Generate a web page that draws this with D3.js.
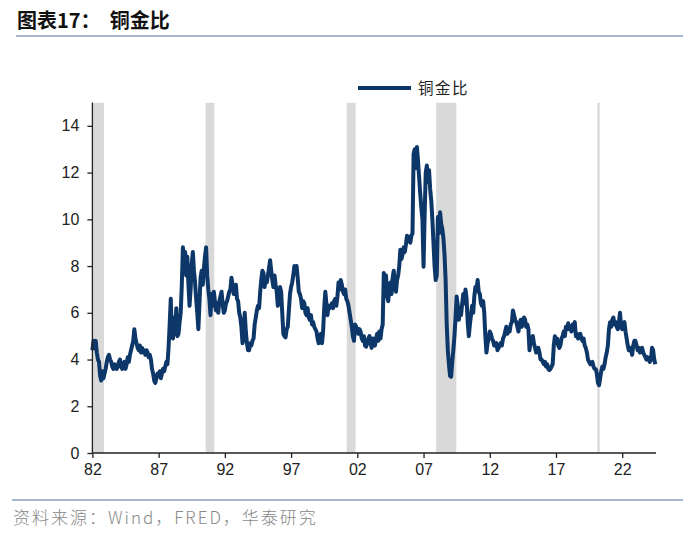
<!DOCTYPE html>
<html><head><meta charset="utf-8">
<script src="https://cdn.jsdelivr.net/npm/d3@7"></script>
<style>
html,body{margin:0;padding:0;background:#fff;}
svg{display:block;}
</style></head>
<body>
<svg id="c" width="700" height="535"></svg>
<script>
// Monthly copper/gold ratio, starting Jan 1982
const startYear = 1982;
const ratio = [
4.4,4.8,4.6,4.8,4.3,4.0,3.9,3.3,3.1,3.5,3.2,3.4,
3.6,3.9,4.1,4.2,4.0,3.9,3.7,3.6,3.8,3.7,3.6,3.7,
3.9,4.0,3.7,3.6,3.8,3.9,3.6,3.8,4.1,3.9,4.2,4.4,
4.6,4.8,5.3,4.9,4.7,4.5,4.4,4.6,4.3,4.5,4.3,4.4,
4.2,4.4,4.3,4.1,4.2,4.0,3.6,3.4,3.1,3.0,3.2,3.4,
3.3,3.5,3.2,3.4,3.6,3.5,3.7,3.9,3.8,4.5,5.5,6.6,
5.0,4.9,5.8,5.1,6.2,5.0,5.1,5.6,6.0,7.2,8.8,8.2,
8.6,7.6,8.4,7.2,6.3,7.0,8.1,8.6,7.8,7.3,6.6,6.0,
5.3,6.4,7.5,7.8,7.2,7.9,8.4,8.8,7.6,7.0,6.6,5.9,
6.8,6.3,6.9,6.5,6.1,6.4,6.0,6.5,6.7,6.9,6.4,6.0,
6.1,6.4,6.5,6.7,6.9,7.0,7.5,7.2,6.8,6.9,7.2,6.6,
6.5,6.0,5.8,5.4,4.7,5.0,6.0,5.2,4.7,4.4,4.4,4.7,
4.6,4.8,4.9,5.5,5.8,6.1,6.3,6.2,6.9,7.4,7.8,7.7,
7.1,7.5,7.3,7.6,7.9,8.25,7.8,7.4,7.1,7.6,7.2,6.9,
6.3,6.6,7.1,6.9,6.0,5.1,5.0,4.95,5.3,5.4,6.1,6.8,
7.1,7.3,7.6,8.0,7.7,8.0,7.5,6.9,6.8,6.6,6.2,6.5,
6.4,6.0,5.9,6.2,5.8,5.7,5.9,5.5,5.6,5.4,5.3,5.2,
4.9,4.7,4.8,5.1,4.7,5.2,6.2,6.9,6.4,5.9,6.3,6.2,
6.3,6.4,6.2,6.5,6.6,6.3,6.7,7.3,7.0,7.4,7.2,6.9,
6.8,7.0,6.6,6.5,6.3,6.0,5.7,5.4,5.0,4.8,5.5,5.4,
5.3,5.1,5.3,5.2,4.9,4.8,5.0,4.6,4.55,4.7,4.9,5.0,
4.7,4.5,4.9,4.8,4.6,4.9,5.1,4.8,5.2,4.9,5.3,5.5,
7.7,7.2,7.6,6.7,6.5,7.0,7.3,6.8,7.5,7.8,7.2,6.9,
7.4,7.6,8.0,8.7,8.3,8.5,8.8,8.6,8.9,9.3,9.1,9.25,
9.0,9.3,9.4,12.8,13.0,12.2,13.1,12.5,11.8,11.1,10.5,10.0,
7.97,10.2,12.0,12.3,11.6,12.1,11.3,10.8,10.0,9.0,8.0,7.4,
7.6,10.1,9.4,10.3,9.8,9.6,9.2,8.5,7.4,5.5,4.4,3.8,
3.3,3.26,3.9,4.4,5.0,5.8,6.7,6.3,5.7,6.2,5.9,6.4,
6.8,6.4,7.0,6.6,5.6,5.0,5.5,5.9,6.3,6.0,6.7,7.1,
7.0,7.4,6.9,6.8,6.4,6.3,6.5,6.0,5.0,4.3,4.7,4.9,
5.2,5.1,4.9,4.8,4.6,4.6,4.7,4.4,4.5,4.6,4.7,4.6,
4.9,5.0,5.2,5.4,5.1,5.3,5.2,5.5,5.6,6.1,5.9,5.7,
5.6,5.4,5.2,5.5,5.7,5.4,5.6,5.8,5.7,5.4,5.5,5.3,
4.4,4.8,4.9,5.0,4.7,4.5,4.3,4.4,4.5,4.3,4.0,4.0,
3.9,3.8,3.9,3.7,3.8,3.6,3.55,3.6,3.7,3.8,4.6,5.0,
4.8,4.9,4.6,4.5,4.6,4.9,5.0,5.2,5.0,5.4,5.3,5.55,
5.3,5.4,5.2,5.5,5.4,5.6,5.0,5.1,4.9,5.0,5.1,4.9,
4.8,4.9,4.6,4.5,4.3,4.0,3.9,3.8,3.85,3.9,3.7,3.6,
3.6,3.4,3.0,2.9,3.2,3.5,3.7,3.6,3.8,4.1,4.3,4.6,
5.3,5.6,5.4,5.7,5.8,5.5,5.6,5.4,5.3,5.6,6.0,5.4,
5.3,5.5,5.6,5.2,4.9,4.6,4.4,4.5,4.4,4.2,4.6,4.8,
4.8,4.6,4.4,4.5,4.3,4.4,4.5,4.3,4.2,4.1,4.0,4.1,
4.0,3.9,4.0,4.5,4.4,4.0,3.8
];
// US recessions (decimal years)
const recStart = [1981.5, 1990.55, 2001.2, 2007.95, 2020.12];
const recEnd   = [1982.88, 1991.2, 2001.87, 2009.47, 2020.3];
const xTicks = [1982, 1987, 1992, 1997, 2002, 2007, 2012, 2017, 2022];
const xTickLabels = ["82","87","92","97","02","07","12","17","22"];
const yTicks = [0, 2, 4, 6, 8, 10, 12, 14];
const seriesName = "铜金比";
const title = "图表17：  铜金比";
const source = "资料来源：Wind，FRED，华泰研究";

const svg = d3.select("#c");
const x = d3.scaleLinear().domain([1982, 2024.55]).range([92.4, 656]);
const y = d3.scaleLinear().domain([0, 15]).range([453, 102.5]);

const data = ratio.map((v, i) => ({t: startYear + i / 12, v}));

// title
svg.append("text").attr("x", 17).attr("y", 28)
  .attr("font-family", "'Noto Sans CJK SC', sans-serif").attr("font-weight", "bold")
  .attr("font-size", 20).attr("fill", "#111").attr("xml:space", "preserve").text(title);
svg.append("line").attr("x1", 16).attr("x2", 683).attr("y1", 36).attr("y2", 36)
  .attr("stroke", "#8da2bb").attr("stroke-width", 1.6);

// recession bands
const clip = svg.append("defs").append("clipPath").attr("id", "pc");
clip.append("rect").attr("x", x(1982)).attr("y", y(15)).attr("width", x(2024.55) - x(1982)).attr("height", y(0) - y(15));
svg.append("g").attr("clip-path", "url(#pc)").selectAll("rect").data(recStart).join("rect")
  .attr("x", (d) => x(d)).attr("y", y(15))
  .attr("width", (d, i) => Math.max(2, x(recEnd[i]) - x(d)))
  .attr("height", y(0) - y(15)).attr("fill", "#d9d9d9");

// line
svg.append("path").datum(data)
  .attr("d", d3.line().x(d => x(d.t)).y(d => y(d.v)))
  .attr("fill", "none").attr("stroke", "#0c3768").attr("stroke-width", 4)
  .attr("stroke-linejoin", "round");

// axes
const yAxis = d3.axisLeft(y).tickValues(yTicks).tickSize(5).tickPadding(8);
const gy = svg.append("g").attr("transform", `translate(${x(1982)},0)`).call(yAxis);
gy.select(".domain").attr("d", `M-0,${y(15)}V${y(0)}`);
const xAxis = d3.axisBottom(x).tickValues(xTicks).tickFormat((d, i) => xTickLabels[i]).tickSize(5).tickPadding(6);
const gx = svg.append("g").attr("transform", `translate(0,${y(0)})`).call(xAxis);
gx.select(".domain").attr("d", `M${x(1982)},0H${x(2024.55)}`);
[gy, gx].forEach(g => {
  g.selectAll("text").attr("font-family", "'Liberation Sans', Arial, sans-serif").attr("font-size", 16).attr("fill", "#222");
  g.selectAll("line").attr("stroke", "#222").attr("stroke-width", 1.3);
  g.select(".domain").attr("stroke", "#222").attr("stroke-width", 1.3);
});

// legend
svg.append("line").attr("x1", 358).attr("x2", 411).attr("y1", 88).attr("y2", 88)
  .attr("stroke", "#0c3768").attr("stroke-width", 4);
svg.append("text").attr("x", 418).attr("y", 94).attr("font-family", "'Noto Sans CJK SC', sans-serif")
  .attr("font-size", 15.5).attr("letter-spacing", 1.5).attr("fill", "#222").text(seriesName);

// footer
svg.append("line").attr("x1", 12).attr("x2", 683).attr("y1", 500).attr("y2", 500)
  .attr("stroke", "#8da2bb").attr("stroke-width", 1.6);
svg.append("text").attr("x", 13).attr("y", 524).attr("font-family", "'Noto Sans CJK SC', sans-serif")
  .attr("font-weight", 300).attr("font-size", 17).attr("letter-spacing", 2).attr("fill", "#888").text(source);
</script>
</body></html>
